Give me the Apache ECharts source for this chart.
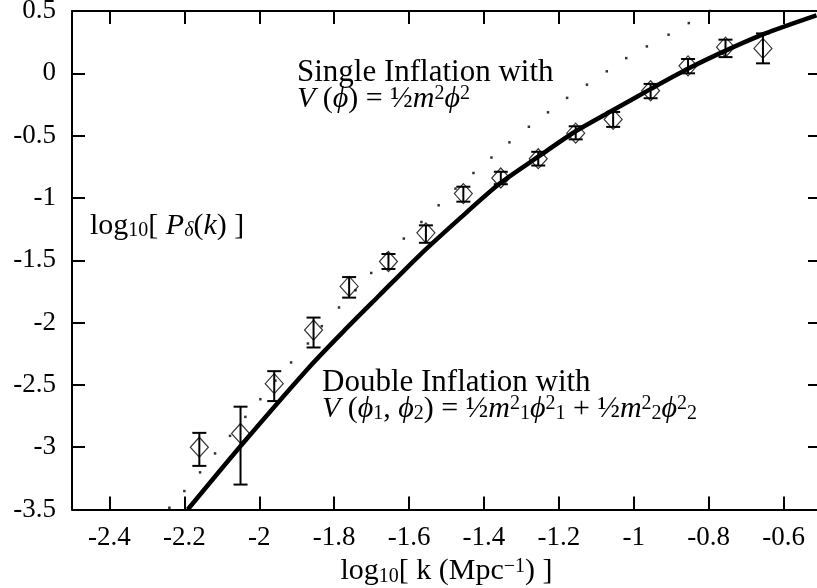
<!DOCTYPE html>
<html>
<head>
<meta charset="utf-8">
<script src="https://cdn.jsdelivr.net/npm/echarts@6/dist/echarts.min.js"></script>
<style>
  html, body { margin: 0; padding: 0; background: #fff; }
  #chart { width: 817px; height: 588px; }
</style>
</head>
<body>
<div id="chart"></div>
<script>
// tick labels on the k axis
const kTicks = [-2.4, -2.2, -2.0, -1.8, -1.6, -1.4, -1.2, -1.0, -0.8, -0.6];

// measured power spectrum: log k, log P, error bar low / high
const obsK = [-2.16, -2.05, -1.96, -1.855, -1.76, -1.655, -1.555, -1.455, -1.355, -1.255, -1.155, -1.055, -0.955, -0.855, -0.755, -0.655];
const obsP = [-3.00, -2.89, -2.49, -2.06, -1.71, -1.51, -1.28, -0.965, -0.84, -0.685, -0.48, -0.37, -0.14, 0.06, 0.21, 0.20];
const obsLo = [-3.15, -3.30, -2.63, -2.20, -1.80, -1.57, -1.36, -1.03, -0.89, -0.74, -0.53, -0.43, -0.20, 0.00, 0.13, 0.08];
const obsHi = [-2.885, -2.675, -2.39, -1.96, -1.635, -1.45, -1.22, -0.91, -0.79, -0.63, -0.425, -0.31, -0.085, 0.115, 0.27, 0.32];

// double inflation model (solid curve)
const doubleK = [-2.191, -2.048, -1.866, -1.772, -1.679, -1.572, -1.465, -1.358, -1.256, -1.158, -1.056, -0.953, -0.853, -0.753, -0.65, -0.512];
const doubleP = [-3.5, -2.984, -2.356, -2.061, -1.781, -1.46, -1.166, -0.885, -0.671, -0.471, -0.297, -0.123, 0.04, 0.184, 0.318, 0.465];

// single inflation model (dotted curve, one dot per sample)
const singleK = [-2.240, -2.200, -2.158, -2.118, -2.078, -2.037, -1.997, -1.957, -1.915, -1.870, -1.833, -1.787, -1.743, -1.701, -1.658, -1.614, -1.567, -1.521, -1.476, -1.428, -1.380, -1.332, -1.280, -1.229, -1.178, -1.125, -1.072, -1.020, -0.965, -0.907, -0.853, -0.797];
const singleP = [-3.486, -3.352, -3.202, -3.050, -2.909, -2.757, -2.615, -2.466, -2.320, -2.168, -2.029, -1.879, -1.741, -1.602, -1.446, -1.326, -1.193, -1.059, -0.925, -0.800, -0.676, -0.554, -0.429, -0.313, -0.197, -0.091, 0.016, 0.122, 0.216, 0.310, 0.403, 0.500];

const serif = '"Liberation Serif", "DejaVu Serif", serif';

const chart = echarts.init(document.getElementById('chart'));

const mathRich = {
  it: { fontStyle: 'italic', fontFamily: serif, fontSize: 30, color: '#000' },
  rm: { fontFamily: serif, fontSize: 30, color: '#000' },
  sup: { fontFamily: serif, fontSize: 20, color: '#000', verticalAlign: 'top' },
  sub: { fontFamily: serif, fontSize: 20, color: '#000', verticalAlign: 'bottom' },
  subi: { fontFamily: serif, fontSize: 20, fontStyle: 'italic', color: '#000', verticalAlign: 'bottom' }
};

const nameRich = {
  rm: { fontFamily: serif, fontSize: 30, color: '#000' },
  sub: { fontFamily: serif, fontSize: 20, color: '#000', verticalAlign: 'bottom' },
  sup: { fontFamily: serif, fontSize: 20, color: '#000', verticalAlign: 'top' }
};

const axisCommon = {
  type: 'value',
  splitLine: { show: false },
  axisLine: { show: true, onZero: false, lineStyle: { color: '#000', width: 2 } },
  axisTick: { show: true, inside: true, length: 13, lineStyle: { color: '#000', width: 2 } }
};

const options = {
  animation: false,
  backgroundColor: '#fff',
  grid: { left: 72, right: -4, top: 11, bottom: 78.5, containLabel: false, outerBoundsMode: 'none' },
  xAxis: [
    Object.assign({}, axisCommon, {
      min: -2.5, max: -0.5, position: 'bottom',
      axisTick: Object.assign({}, axisCommon.axisTick, { customValues: kTicks }),
      axisLabel: {
        customValues: kTicks, margin: 15, color: '#000',
        fontFamily: serif, fontSize: 27,
        formatter: (v) => String(Math.round(v * 10) / 10)
      },
      name: '{rm|log}{sub|10}{rm|[ k (Mpc}{sup|−1}{rm|) ]}',
      nameLocation: 'middle', nameGap: 43,
      nameTextStyle: { rich: nameRich }
    }),
    Object.assign({}, axisCommon, {
      min: -2.5, max: -0.5, position: 'top',
      axisTick: Object.assign({}, axisCommon.axisTick, { customValues: kTicks }),
      axisLabel: { show: false }
    })
  ],
  yAxis: [
    Object.assign({}, axisCommon, {
      min: -3.5, max: 0.5, interval: 0.5, position: 'left',
      axisLabel: { margin: 16, color: '#000', fontFamily: serif, fontSize: 27 }
    }),
    Object.assign({}, axisCommon, {
      min: -3.5, max: 0.5, interval: 0.5, position: 'right',
      axisLabel: { show: false }
    })
  ],
  graphic: [
    {
      type: 'text', left: 297, top: 57,
      style: { text: 'Single Inflation with', font: '31px ' + serif, fill: '#000' }
    },
    {
      type: 'text', left: 297, top: 84,
      style: {
        text: '{it|V}{rm| (}{it|ϕ}{rm|) = ½}{it|m}{sup|2}{it|ϕ}{sup|2}',
        rich: mathRich
      }
    },
    {
      type: 'text', left: 322, top: 367,
      style: { text: 'Double Inflation with', font: '31px ' + serif, fill: '#000' }
    },
    {
      type: 'text', left: 322, top: 394,
      style: {
        text: '{it|V}{rm| (}{it|ϕ}{sub|1}{rm|, }{it|ϕ}{sub|2}{rm|) = ½}{it|m}{sup|2}{sub|1}{it|ϕ}{sup|2}{sub|1}{rm| + ½}{it|m}{sup|2}{sub|2}{it|ϕ}{sup|2}{sub|2}',
        rich: mathRich
      }
    },
    {
      type: 'text', left: 90, top: 211,
      style: {
        text: '{rm|log}{sub|10}{rm|[ }{it|P}{subi|δ}{rm|(}{it|k}{rm|) ]}',
        rich: mathRich
      }
    }
  ],
  series: [
    {
      name: 'single',
      type: 'scatter',
      symbol: 'rect',
      symbolSize: 2.5,
      itemStyle: { color: '#000' },
      data: singleK.map((k, i) => [k, singleP[i]])
    },
    {
      name: 'errors',
      type: 'custom',
      data: obsK.map((k, i) => [k, obsLo[i], obsHi[i]]),
      renderItem: (params, api) => {
        const lo = api.coord([api.value(0), api.value(1)]);
        const hi = api.coord([api.value(0), api.value(2)]);
        const st = { stroke: '#000', lineWidth: 2 };
        return {
          type: 'group',
          children: [
            { type: 'line', shape: { x1: lo[0], y1: lo[1], x2: hi[0], y2: hi[1] }, style: st },
            { type: 'line', shape: { x1: lo[0] - 7, y1: lo[1], x2: lo[0] + 7, y2: lo[1] }, style: st },
            { type: 'line', shape: { x1: hi[0] - 7, y1: hi[1], x2: hi[0] + 7, y2: hi[1] }, style: st }
          ]
        };
      }
    },
    {
      name: 'data',
      type: 'scatter',
      symbol: 'diamond',
      symbolSize: [18, 20],
      itemStyle: { color: 'rgba(0,0,0,0)', borderColor: '#000', borderWidth: 1.2 },
      data: obsK.map((k, i) => [k, obsP[i]])
    },
    {
      name: 'double',
      type: 'line',
      smooth: 0.25,
      showSymbol: false,
      clip: true,
      lineStyle: { color: '#000', width: 4.5 },
      data: doubleK.map((k, i) => [k, doubleP[i]])
    }
  ]
};

chart.setOption(options);
</script>
</body>
</html>
